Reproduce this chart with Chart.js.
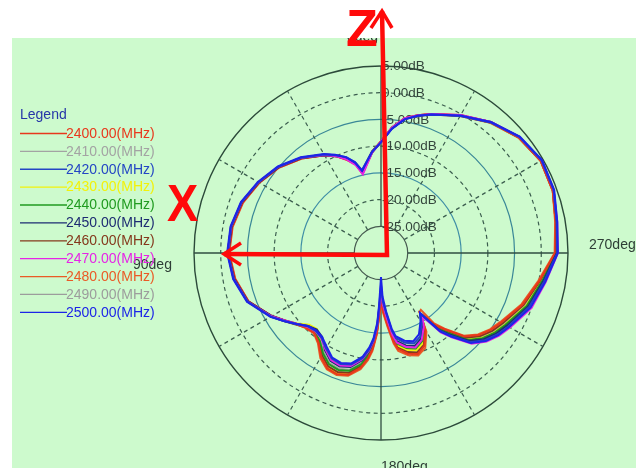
<!DOCTYPE html>
<html>
<head>
<meta charset="utf-8">
<style>
  html, body { margin: 0; padding: 0; background: #ffffff; }
  #c { display: block; }
</style>
<script src="https://cdn.jsdelivr.net/npm/chart.js@4.4.0/dist/chart.umd.min.js"></script>
</head>
<body>
<canvas id="c" width="636" height="468"></canvas>
<script>
// Measurement angles in degrees, counter-clockwise from the top (0deg up, 90deg left)
const angles = [0,5,10,13,16,20,25,30,40,50, 60,70,80,90,100,110,120,125,130,135,
  140,145,150,155,160,165,170,173,175,177, 178,180,182,185,188,190,195,200,205,210,
  213,215,217,220,225,230,235,240,250,260, 270,280,290,300,310,320,330,340,345,350, 355];

// Gain in dB for each frequency, one value per angle above
const s2400 = [-9.1,-11.1,-13.6,-14.8,-12.8,-11.5,-10.0,-8.9,-6.9,-5.1,
  -3.7,-2.5,-1.8,-1.6,-2.3,-3.6,-6.4,-8.0,-9.3,-10.2,
  -10.5,-9.6,-7.6,-6.2,-5.9,-6.4,-8.2,-10.2,-12.0,-15.0,
  -17.8,-21.5,-19.2,-16.6,-13.3,-11.8,-10.5,-9.9,-10.8,-13.4,
  -16.6,-15.2,-13.0,-11.3,-7.9,-6.1,-4.9,-4.0,-1.8,0.1,
  2.6,3.2,4.2,4.5,3.7,2.0,-0.2,-2.3,-3.3,-4.4, -6.4];
const s2410 = [-9.3,-11.0,-13.2,-14.2,-12.4,-11.1,-9.9,-8.8,-6.8,-5.0,
  -3.6,-2.3,-1.6,-1.4,-2.1,-3.5,-6.3,-7.9,-9.3,-10.4,
  -10.7,-10.0,-8.4,-7.1,-6.8,-7.3,-9.0,-10.9,-12.7,-15.5,
  -18.3,-22.0,-19.8,-17.4,-14.0,-12.5,-11.3,-10.7,-11.5,-13.8,
  -16.2,-14.9,-12.5,-10.7,-7.3,-5.5,-4.3,-3.4,-1.3,0.4,
  2.7,3.3,4.3,4.6,3.7,1.9,-0.3,-2.3,-3.4,-4.5, -6.5];
const s2420 = [-9.3,-10.9,-13.1,-14.1,-12.3,-10.9,-9.8,-8.7,-6.7,-4.9,
  -3.5,-2.2,-1.5,-1.3,-2.0,-3.4,-6.2,-7.8,-9.3,-10.6,
  -11.0,-10.6,-9.4,-8.2,-7.9,-8.4,-10.0,-11.8,-13.6,-16.5,
  -19.8,-24.0,-21.0,-18.6,-15.3,-13.8,-12.6,-12.0,-12.7,-14.8,
  -16.5,-14.6,-11.8,-9.8,-6.4,-4.6,-3.4,-2.5,-0.5,1.0,
  3.0,3.4,4.4,4.7,3.8,1.9,-0.4,-2.4,-3.4,-4.6, -6.6];
const s2430 = [-9.2,-11.0,-13.3,-14.2,-12.5,-11.2,-9.9,-8.8,-6.8,-5.0,
  -3.6,-2.3,-1.6,-1.4,-2.1,-3.5,-6.3,-8.0,-9.5,-11.0,
  -11.4,-10.0,-7.8,-6.4,-6.1,-6.6,-8.4,-10.3,-12.2,-15.2,
  -18.0,-21.0,-19.4,-17.0,-13.8,-12.4,-11.2,-10.6,-11.4,-13.8,
  -16.0,-14.6,-12.3,-10.5,-7.1,-5.3,-4.1,-3.2,-1.1,0.5,
  2.8,3.3,4.3,4.6,3.7,1.9,-0.3,-2.3,-3.3,-4.5, -6.5];
const s2440 = [-9.2,-11.0,-13.3,-14.3,-12.5,-11.2,-9.9,-8.8,-6.8,-5.0,
  -3.6,-2.3,-1.6,-1.4,-2.1,-3.5,-6.3,-7.9,-9.3,-10.4,
  -10.7,-10.0,-8.3,-7.0,-6.7,-7.2,-8.9,-10.8,-12.6,-15.5,
  -18.4,-22.0,-20.0,-17.6,-14.3,-12.8,-11.6,-11.0,-11.8,-14.0,
  -16.2,-14.7,-12.3,-10.4,-7.0,-5.2,-4.0,-3.1,-1.0,0.6,
  2.8,3.3,4.3,4.6,3.7,1.9,-0.3,-2.35,-3.35,-4.5, -6.5];
const s2450 = [-9.2,-11.1,-13.4,-14.4,-12.6,-11.3,-10.0,-8.9,-6.8,-5.0,
  -3.6,-2.3,-1.6,-1.4,-2.1,-3.5,-6.4,-8.0,-9.4,-10.7,
  -11.3,-10.8,-9.0,-7.7,-7.4,-7.9,-9.6,-11.5,-13.3,-16.2,
  -19.0,-23.0,-20.5,-18.1,-14.8,-13.3,-12.1,-11.5,-12.3,-14.4,
  -16.3,-14.6,-12.0,-10.1,-6.7,-4.9,-3.7,-2.8,-0.7,0.8,
  2.9,3.4,4.4,4.7,3.8,2.0,-0.3,-2.4,-3.4,-4.5, -6.6];
const s2460 = [-9.1,-11.0,-13.4,-14.5,-12.6,-11.2,-9.8,-8.7,-6.7,-4.9,
  -3.5,-2.2,-1.5,-1.3,-2.0,-3.4,-6.2,-7.8,-9.2,-10.3,
  -10.6,-9.8,-7.9,-6.6,-6.3,-6.8,-8.5,-10.4,-12.2,-15.1,
  -17.9,-21.5,-19.4,-16.9,-13.5,-12.0,-10.8,-10.2,-11.0,-13.5,
  -16.5,-15.2,-12.9,-11.0,-7.6,-5.8,-4.6,-3.7,-1.6,0.2,
  2.6,3.2,4.2,4.5,3.6,1.9,-0.3,-2.3,-3.3,-4.4, -6.4];
const s2470 = [-9.1,-11.1,-13.7,-14.9,-12.9,-11.4,-10.0,-8.8,-6.7,-4.9,
  -3.5,-2.2,-1.5,-1.3,-2.0,-3.4,-6.3,-8.0,-9.4,-10.5,
  -10.9,-10.5,-9.2,-7.9,-7.6,-8.1,-9.8,-11.6,-13.4,-16.2,
  -19.2,-22.5,-20.4,-17.8,-14.5,-13.0,-11.8,-11.2,-12.0,-14.0,
  -15.8,-14.0,-11.4,-9.4,-6.0,-4.2,-3.0,-2.1,0.0,1.3,
  3.1,3.5,4.4,4.7,3.8,2.0,-0.2,-2.3,-3.3,-4.4, -6.4];
const s2480 = [-9.1,-10.9,-13.2,-14.4,-12.6,-11.4,-10.0,-8.9,-6.9,-5.1,
  -3.7,-2.4,-1.7,-1.5,-2.2,-3.6,-6.4,-8.0,-9.3,-10.1,
  -10.4,-9.4,-7.3,-6.0,-5.7,-6.2,-7.9,-9.8,-11.6,-14.6,
  -17.2,-20.5,-18.8,-16.2,-12.9,-11.4,-10.2,-9.6,-10.4,-13.0,
  -16.8,-17.0,-13.5,-11.5,-8.1,-6.3,-5.1,-4.2,-2.0,-0.1,
  2.5,3.1,4.2,4.5,3.6,1.8,-0.4,-2.4,-3.4,-4.5, -6.5];
const s2490 = [-9.2,-11.0,-13.3,-14.3,-12.5,-11.2,-9.9,-8.8,-6.8,-5.0,
  -3.6,-2.3,-1.6,-1.4,-2.1,-3.5,-6.3,-7.9,-9.3,-10.4,
  -10.7,-10.1,-8.5,-7.2,-6.9,-7.4,-9.1,-11.0,-12.8,-15.6,
  -18.3,-22.0,-19.8,-17.4,-14.1,-12.6,-11.4,-10.8,-11.6,-13.9,
  -16.2,-14.9,-12.5,-10.6,-7.2,-5.4,-4.2,-3.3,-1.2,0.4,
  2.7,3.3,4.3,4.6,3.7,1.9,-0.3,-2.35,-3.35,-4.5, -6.5];
const s2500 = [-9.3,-11.0,-13.2,-14.2,-12.4,-10.9,-9.7,-8.6,-6.6,-4.8,
  -3.4,-2.1,-1.4,-1.2,-1.9,-3.3,-6.1,-7.8,-9.3,-10.7,
  -11.1,-10.8,-9.7,-8.4,-8.1,-8.6,-10.3,-12.2,-14.0,-17.0,
  -20.5,-25.5,-21.8,-19.0,-15.7,-14.2,-13.0,-12.4,-13.2,-15.2,
  -16.6,-14.4,-11.6,-9.6,-6.2,-4.4,-3.2,-2.3,-0.2,1.2,
  3.1,3.5,4.5,4.8,3.9,2.0,-0.3,-2.4,-3.4,-4.6, -6.7];

const freqLabels = ['2400.00(MHz)','2410.00(MHz)','2420.00(MHz)','2430.00(MHz)','2440.00(MHz)',
  '2450.00(MHz)','2460.00(MHz)','2470.00(MHz)','2480.00(MHz)','2490.00(MHz)','2500.00(MHz)'];
const freqSeries = [s2400, s2410, s2420, s2430, s2440, s2450, s2460, s2470, s2480, s2490, s2500];
const freqColors = ['#e8381c','#a3a3a3','#2446c4','#f2f20a','#1f9a1f','#1d2b72',
  '#84381c','#e624e6','#ea5a26','#9c9c9c','#1c24e8'];
// stacking of the traces (lower number drawn on top)
const drawOrder = [4, 9, 1, 8, 6, 3, 7, 2, 5, 10, 0];

// Radial axis rings and their captions
const dbValues = [5, 0, -5, -10, -15, -20, -25];
const dbLabels = ['5.00dB','0.00dB','-5.00dB','-10.00dB','-15.00dB','-20.00dB','-25.00dB'];
const degLabels = ['0deg','90deg','180deg','270deg'];
const spokeAngles = [0,30,60,90,120,150,180,210,240,270,300,330];

const FONT = '"Liberation Sans", Arial, sans-serif';

// One spoke per whole degree; clockwise spoke index = (360 - ccw angle) % 360
const spokeNames = Array.from({length: 360}, (_, i) => String(i));
function onSpokes(values) {
  const arr = new Array(360).fill(null);
  angles.forEach((a, k) => { arr[(360 - a) % 360] = values[k]; });
  return arr;
}

const datasets = freqSeries.map((vals, i) => ({
  label: freqLabels[i],
  data: onSpokes(vals),
  borderColor: freqColors[i],
  borderWidth: 2,
  pointRadius: 0,
  pointHoverRadius: 0,
  fill: false,
  spanGaps: true,
  tension: 0,
  order: drawOrder[i]
}));

const ringStyle = {
  '5':   { color: '#2c4a3a', dash: [] },
  '0':   { color: '#3b5d4e', dash: [4, 3.5] },
  '-5':  { color: '#3a8797', dash: [] },
  '-10': { color: '#3b5d4e', dash: [4, 3.5] },
  '-15': { color: '#3f8ea6', dash: [] },
  '-20': { color: '#3b5d4e', dash: [4, 3.5] },
  '-25': { color: '#465a50', dash: [] }
};

const decor = {
  id: 'decor',
  beforeDraw(chart) {
    const { ctx, width, height } = chart;
    ctx.save();
    ctx.fillStyle = '#ffffff';
    ctx.fillRect(0, 0, width, height);
    ctx.fillStyle = '#cdfacd';
    ctx.fillRect(12, 38, width - 12, height - 38);
    ctx.restore();
  },
  beforeDatasetsDraw(chart) {
    const { ctx } = chart;
    const r = chart.scales.r;
    const cx = r.xCenter, cy = r.yCenter;
    const rIn = r.getDistanceFromCenterForValue(-25);
    const rOut = r.getDistanceFromCenterForValue(5);
    ctx.save();
    ctx.beginPath();
    ctx.rect(12, 38, chart.width - 12, chart.height - 38);
    ctx.clip();

    // rings
    dbValues.forEach(v => {
      const st = ringStyle[String(v)];
      ctx.beginPath();
      ctx.strokeStyle = st.color;
      ctx.lineWidth = v === 5 ? 1.4 : 1.2;
      ctx.setLineDash(st.dash);
      ctx.arc(cx, cy, r.getDistanceFromCenterForValue(v), 0, Math.PI * 2);
      ctx.stroke();
    });

    // spokes: solid on the main axes, dashed every 30 degrees between
    spokeAngles.forEach(deg => {
      const idx = (360 - deg) % 360;
      const p1 = r.getPointPosition(idx, rIn);
      const p2 = r.getPointPosition(idx, rOut);
      const main = deg % 90 === 0;
      ctx.beginPath();
      ctx.strokeStyle = main ? '#2f4d40' : '#3b5d4e';
      ctx.lineWidth = main ? 1.3 : 1.2;
      ctx.setLineDash(main ? [] : [4, 3.5]);
      ctx.moveTo(p1.x, p1.y);
      ctx.lineTo(p2.x, p2.y);
      ctx.stroke();
    });
    ctx.setLineDash([]);

    // ring captions along the upper axis
    ctx.fillStyle = '#34463c';
    ctx.font = '13.5px ' + FONT;
    ctx.textAlign = 'left';
    ctx.textBaseline = 'middle';
    dbValues.forEach((v, i) => {
      ctx.fillText(dbLabels[i], cx + 1, cy - r.getDistanceFromCenterForValue(v) + 0.5);
    });

    // direction captions
    ctx.font = '14px ' + FONT;
    ctx.fillStyle = '#2e3e36';
    ctx.textAlign = 'right';
    ctx.fillText(degLabels[0], cx - 3, cy - rOut - 29);
    ctx.textAlign = 'left';
    ctx.fillText(degLabels[1], cx - rOut - 61, cy + 12);
    ctx.fillText(degLabels[2], cx, cy + rOut + 27);
    ctx.fillText(degLabels[3], cx + rOut + 21, cy - 8);

    // legend block
    ctx.font = '14px ' + FONT;
    ctx.fillStyle = '#2636a8';
    ctx.fillText('Legend', 20, 115);
    freqLabels.forEach((lab, i) => {
      const y = 133 + i * 17.88;
      ctx.beginPath();
      ctx.strokeStyle = freqColors[i];
      ctx.lineWidth = 1.3;
      ctx.moveTo(20, y + 0.5);
      ctx.lineTo(67, y + 0.5);
      ctx.stroke();
      ctx.fillStyle = freqColors[i];
      ctx.fillText(lab, 66, y + 1);
    });
    ctx.restore();
  },
  afterDraw(chart) {
    const { ctx } = chart;
    const r = chart.scales.r;
    const cx = r.xCenter, cy = r.yCenter;
    ctx.save();
    ctx.strokeStyle = '#ff0a0a';
    ctx.fillStyle = '#ff0a0a';
    ctx.lineWidth = 4.5;
    ctx.lineJoin = 'miter';
    ctx.lineCap = 'butt';
    // coordinate arrows
    ctx.beginPath();
    ctx.moveTo(cx + 1, 11);
    ctx.lineTo(cx + 6, cy + 2);
    ctx.lineTo(cx - 157, cy + 1);
    ctx.stroke();
    ctx.lineWidth = 3.5;
    ctx.beginPath();
    ctx.moveTo(cx - 10, 28);
    ctx.lineTo(cx + 1, 11);
    ctx.lineTo(cx + 11, 28);
    ctx.stroke();
    ctx.beginPath();
    ctx.moveTo(cx - 140, cy - 10);
    ctx.lineTo(cx - 157, cy + 1);
    ctx.lineTo(cx - 140, cy + 12);
    ctx.stroke();
    // axis letters
    ctx.font = 'bold 52px ' + FONT;
    ctx.textAlign = 'left';
    ctx.textBaseline = 'alphabetic';
    ctx.fillText('Z', 346, 46);
    ctx.save();
    ctx.translate(167, 221);
    ctx.scale(0.9, 1);
    ctx.fillText('X', 0, 0);
    ctx.restore();
    ctx.restore();
  }
};

new Chart(document.getElementById('c'), {
  type: 'radar',
  data: { labels: spokeNames, datasets },
  options: {
    responsive: false,
    animation: false,
    events: [],
    layout: { padding: { left: 194, right: 68, top: 66, bottom: 28 } },
    plugins: { legend: { display: false }, tooltip: { enabled: false } },
    scales: {
      r: {
        min: -30,
        max: 5,
        ticks: { display: false, stepSize: 5 },
        pointLabels: { display: false },
        angleLines: { display: false },
        grid: { display: false }
      }
    }
  },
  plugins: [decor]
});
</script>
</body>
</html>
